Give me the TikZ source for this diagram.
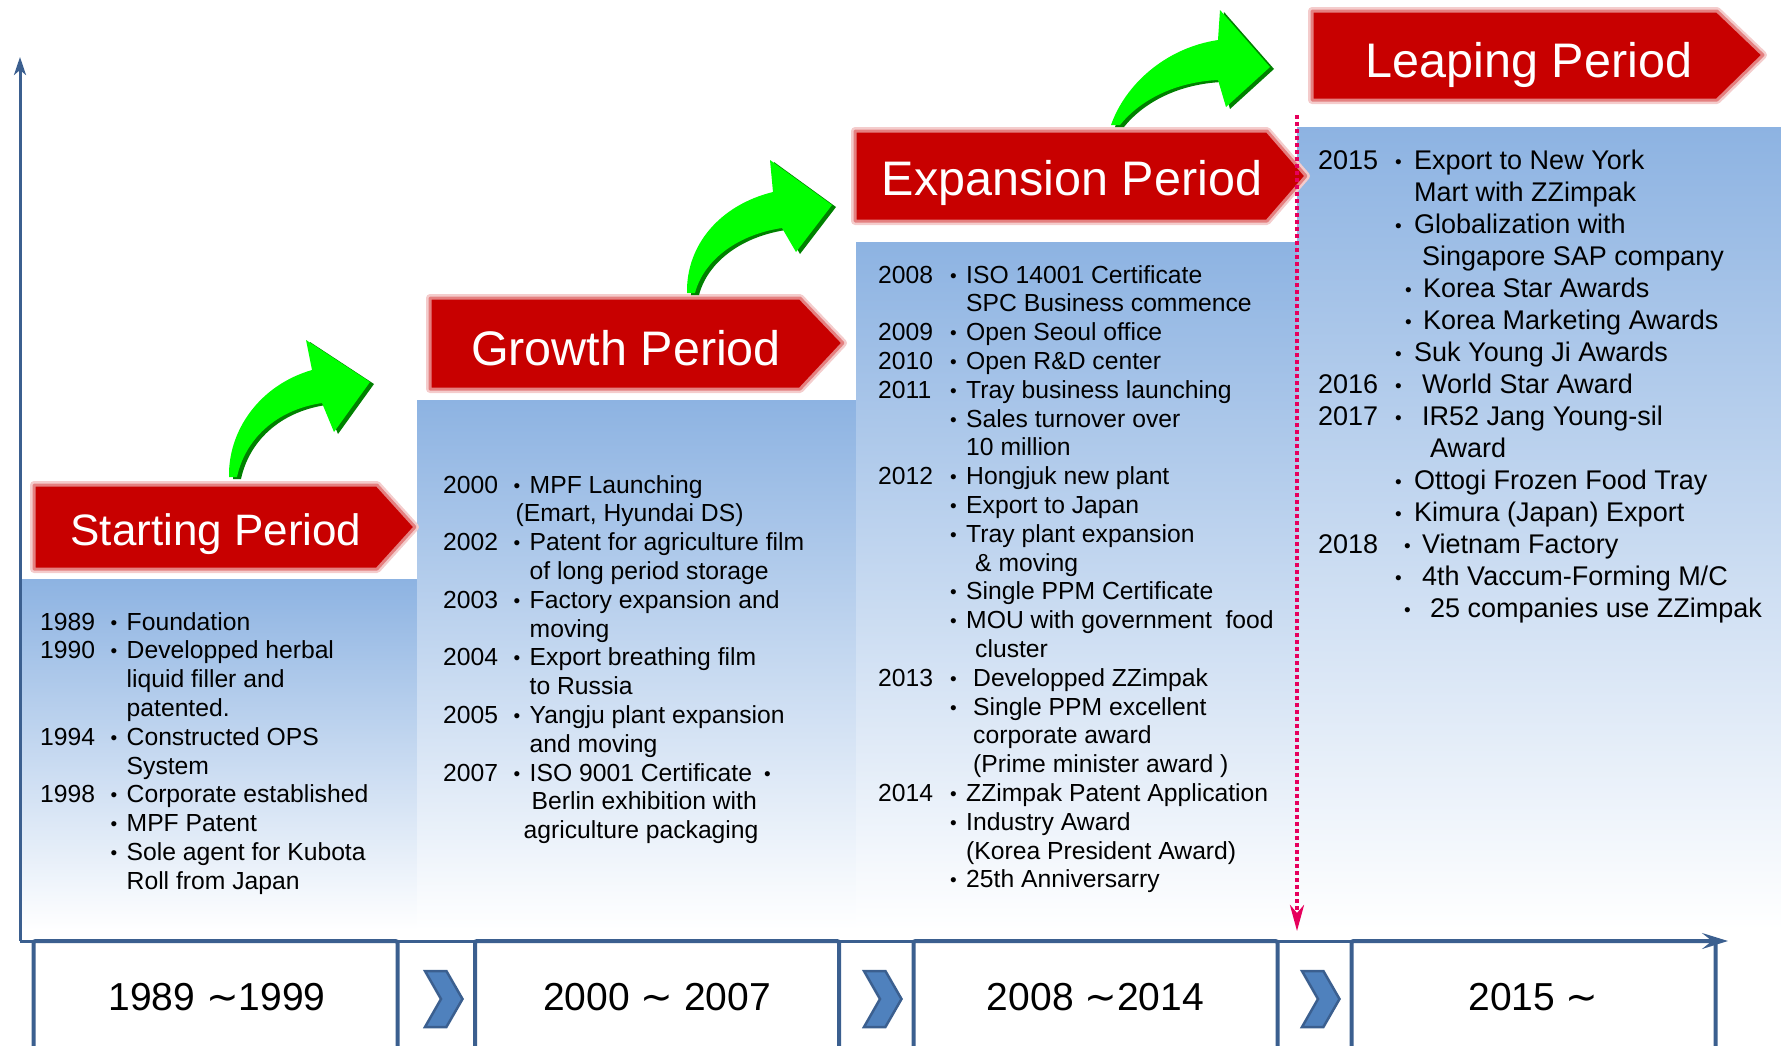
\documentclass[tikz,border=0pt]{standalone}
\usepackage{fontspec}
\setmainfont{Liberation Sans}
\newfontfamily\tildefont{DejaVu Sans}
\usetikzlibrary{arrows.meta}

\definecolor{bannerred}{RGB}{200,0,0}
\definecolor{colblue}{RGB}{141,179,226}
\definecolor{axisblue}{RGB}{59,95,143}
\definecolor{chevblue}{RGB}{79,129,189}
\definecolor{divpink}{RGB}{230,0,92}
\definecolor{arrowgreen}{RGB}{0,255,0}
\definecolor{arrowdkgreen}{RGB}{0,128,0}

\newcommand\evfont{\fontsize{24.7}{28.8}\selectfont}
\newcommand\evfontL{\fontsize{27}{32}\selectfont}
\newcommand\evdot{\raisebox{1pt}{\fontsize{19}{19}\selectfont •}}
\newcommand\yrsep{{\tildefont ∼}}

\tikzset{
  colfill/.style={top color=colblue, bottom color=white},
  banner/.style={fill=bannerred, draw=bannerred!50, line width=3pt, line join=round,
    preaction={draw=bannerred!20, line width=8pt, line join=round}},
  bannerlbl/.style={text=white, inner sep=0pt, anchor=base, font=\fontsize{48.5}{50}\selectfont},
  yearbox/.style={draw=axisblue, line width=4pt, fill=white, rounded corners=2pt,
    minimum width=364pt, minimum height=124pt, inner sep=0pt},
  yearlbl/.style={anchor=base, inner sep=0pt, font=\fontsize{39}{40}\selectfont},
  axisline/.style={draw=axisblue, line width=3pt},
  divider/.style={draw=divpink, line width=4pt, dash pattern=on 3.5pt off 3.5pt},
  chev/.style={fill=chevblue, draw=axisblue, line width=2.5pt},
  evtext/.style={anchor=base west, inner sep=0pt, align=left},
}

\begin{document}
\begin{tikzpicture}[x=1pt, y=-1pt]
  \useasboundingbox (0,0) rectangle (1781,1045);

  % period columns
  \shade[colfill] (20,579) rectangle (417,930);
  \shade[colfill] (417,400) rectangle (856,930);
  \shade[colfill] (856,242) rectangle (1297,930);
  \shade[colfill] (1297,127) rectangle (1781,930);

  % red banners
  \path[banner] (34,485) -- (377,485) -- (415,527) -- (377,569) -- (34,569) -- cycle;
  \path[banner] (430,298) -- (800,298) -- (843,343) -- (800,389) -- (430,389) -- cycle;
  \path[banner] (855,131) -- (1267,131) -- (1306,176) -- (1267,221) -- (855,221) -- cycle;
  \path[banner] (1312,11) -- (1717,11) -- (1763,55) -- (1717,100) -- (1312,100) -- cycle;

  \node[bannerlbl, font=\fontsize{44}{46}\selectfont] (startlbl) at (216,545) {Starting Period};
  \node[bannerlbl] (growthlbl) at (626,365) {Growth Period};
  \node[bannerlbl] (expandlbl) at (1072,195) {Expansion Period};
  \node[bannerlbl] (leaplbl) at (1529,77) {Leaping Period};

  % green step arrows
  \foreach \col/\dx/\dy in {arrowdkgreen/4/2, arrowgreen/0/0} {
    \fill[fill=\col, shift={(\dx,\dy)}] (229,477) .. controls (228,430) and (260,385) .. (312,370)
      -- (306,340) -- (370,382) -- (334,432) -- (322,403)
      .. controls (275,410) and (245,440) .. (237,477) -- cycle;
    \fill[fill=\col, shift={(\dx,\dy)}] (687,293) .. controls (686,245) and (720,205) .. (773,192)
      -- (770,160) -- (832,205) -- (796,252) -- (782,228)
      .. controls (735,235) and (703,262) .. (695,293) -- cycle;
    \fill[fill=\col, shift={(\dx,\dy)}] (1111,125) .. controls (1125,85) and (1165,48) .. (1218,40)
      -- (1220,10) -- (1270,67) -- (1226,107) -- (1218,80)
      .. controls (1175,82) and (1140,100) .. (1120,125) -- cycle;
  }

  % divider
  \coordinate (divtop) at (1297,115);
  \coordinate (divbot) at (1297,931);
  \draw[divider, -{Stealth[length=26pt, width=14pt, inset=8pt]}] (divtop) -- (divbot);

  % year boxes
  \node[yearbox] (yr1) at (215.5,1003) {};
  \node[yearbox] (yr2) at (657,1003) {};
  \node[yearbox] (yr3) at (1095.5,1003) {};
  \node[yearbox] (yr4) at (1533.5,1003) {};
  \node[yearlbl] (yr1lbl) at (217,1010) {1989 \yrsep1999};
  \node[yearlbl] (yr2lbl) at (657,1010) {2000 \yrsep\ 2007};
  \node[yearlbl] (yr3lbl) at (1095.5,1010) {2008 \yrsep2014};
  \node[yearlbl] (yr4lbl) at (1533.5,1010) {2015 \yrsep};

  % axes
  \coordinate (origin) at (20,941);
  \coordinate (ytip) at (20,57);
  \coordinate (xtip) at (1728,941);
  \draw[axisline, -{Stealth[length=18pt, width=12pt, inset=5pt]}] (origin) -- (ytip);
  \draw[axisline, -{Stealth[length=26pt, width=16pt, inset=10pt]}] (origin) -- (xtip);

  % chevrons
  \foreach \cx in {444,883,1321}
    \path[chev] (\cx-19,971) -- (\cx+2.4,971) -- (\cx+18.5,999) -- (\cx+2.4,1027)
      -- (\cx-19,1027) -- (\cx-3,999) -- cycle;

  % events
  \node[evtext, font=\evfont] (era1) at (40,630) {%
    \begin{tabular}[t]{@{}p{70.5pt}@{}p{16pt}@{}l@{}}
      1989 & \evdot & Foundation\\
      1990 & \evdot & Developped herbal\\
           &        & liquid filler and\\
           &        & patented.\\
      1994 & \evdot & Constructed OPS\\
           &        & System\\
      1998 & \evdot & Corporate established\\
           & \evdot & MPF Patent\\
           & \evdot & Sole agent for Kubota\\
           &        & Roll from Japan
    \end{tabular}};

  \node[evtext, font=\evfont] (era2) at (443,493) {%
    \begin{tabular}[t]{@{}p{70.5pt}@{}p{16pt}@{}l@{}}
      2000 & \evdot & MPF Launching\\
           & \multicolumn{2}{@{}l@{}}{\hspace{2pt}(Emart, Hyundai DS)}\\
      2002 & \evdot & Patent for agriculture film\\
           &        & of long period storage\\
      2003 & \evdot & Factory expansion and\\
           &        & moving\\
      2004 & \evdot & Export breathing film\\
           &        & to Russia\\
      2005 & \evdot & Yangju plant expansion\\
           &        & and moving\\
      2007 & \evdot & ISO 9001 Certificate\hspace{12pt}\evdot\\
           &        & \hspace{2pt}Berlin exhibition with\\
           & \multicolumn{2}{@{}l@{}}{\hspace{10pt}agriculture packaging}
    \end{tabular}};

  \node[evtext, font=\evfont] (era3) at (878,283) {%
    \begin{tabular}[t]{@{}p{72pt}@{}p{16pt}@{}l@{}}
      2008 & \evdot & ISO 14001 Certificate\\
           &        & SPC Business commence\\
      2009 & \evdot & Open Seoul office\\
      2010 & \evdot & Open R\&D center\\
      2011 & \evdot & Tray business launching\\
           & \evdot & Sales turnover over\\
           &        & 10 million\\
      2012 & \evdot & Hongjuk new plant\\
           & \evdot & Export to Japan\\
           & \evdot & Tray plant expansion\\
           &        & \hspace{9pt}\& moving\\
           & \evdot & Single PPM Certificate\\
           & \evdot & MOU with government\ \ food\\
           &        & \hspace{9pt}cluster\\
      2013 & \evdot & \hspace{7pt}Developped ZZimpak\\
           & \evdot & \hspace{7pt}Single PPM excellent\\
           &        & \hspace{7pt}corporate award\\
           &        & \hspace{7pt}(Prime minister award )\\
      2014 & \evdot & ZZimpak Patent Application\\
           & \evdot & Industry Award\\
           &        & (Korea President Award)\\
           & \evdot & 25th Anniversarry
    \end{tabular}};

  \node[evtext, font=\evfontL] (era4) at (1318,169) {%
    \begin{tabular}[t]{@{}p{77pt}@{}p{19pt}@{}l@{}}
      2015 & \evdot & Export to New York\\
           &        & Mart with ZZimpak\\
           & \evdot & Globalization with\\
           &        & \hspace{8pt}Singapore SAP company\\
           & \hspace{10pt}\evdot & \hspace{9pt}Korea Star Awards\\
           & \hspace{10pt}\evdot & \hspace{9pt}Korea Marketing Awards\\
           & \evdot & Suk Young Ji Awards\\
      2016 & \evdot & \hspace{8pt}World Star Award\\
      2017 & \evdot & \hspace{8pt}IR52 Jang Young-sil\\
           &        & \hspace{16pt}Award\\
           & \evdot & Ottogi Frozen Food Tray\\
           & \evdot & Kimura (Japan) Export\\
      2018 & \hspace{9pt}\evdot & \hspace{8pt}Vietnam Factory\\
           & \evdot & \hspace{8pt}4th Vaccum-Forming M/C\\
           & \hspace{9pt}\evdot & \hspace{16pt}25 companies use ZZimpak
    \end{tabular}};
\end{tikzpicture}
\end{document}
